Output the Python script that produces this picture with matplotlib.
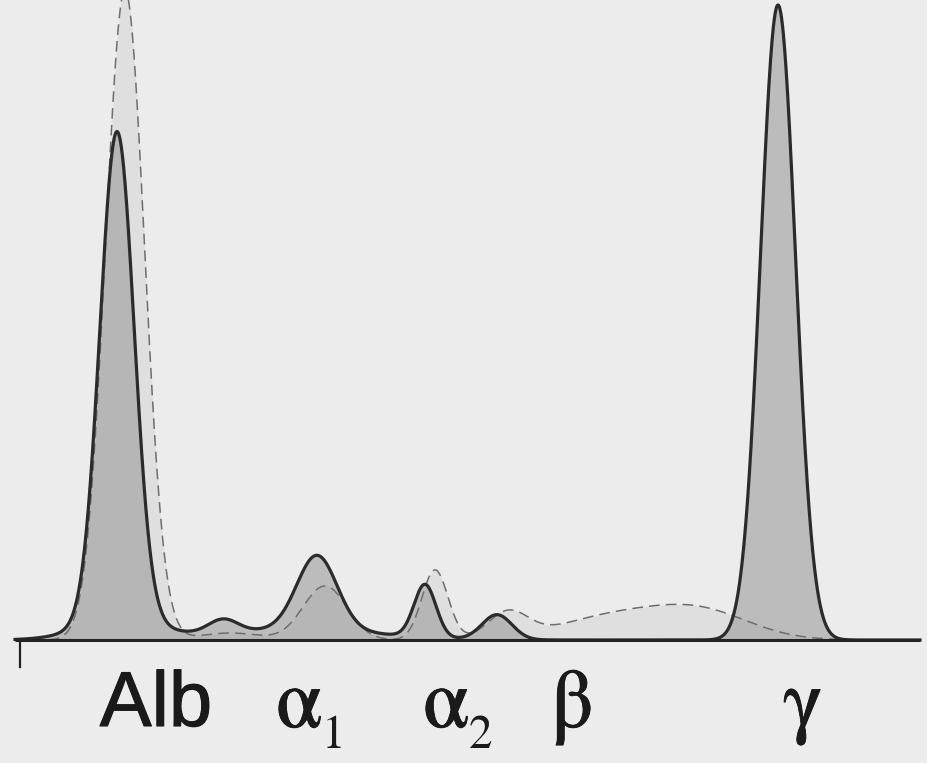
import matplotlib.pyplot as plt
import matplotlib.patheffects as pe
import numpy as np

# fractions of the patient trace (solid) : position, height, width
patient_pos = [117, 120, 223, 300, 317, 425, 497, 778]
patient_height = [490, 18, 14, 11, 74, 53, 25, 635]
patient_width = [17, 40, 15, 75, 20, 11, 15, 17.5]

# fractions of the reference trace (dashed)
normal_pos = [125, 230, 325, 435, 508, 610, 700]
normal_height = [650, 7, 54, 70, 26, 22, 28]
normal_width = [19.5, 30, 22, 13, 20, 55, 50]

labels = ['Alb', 'α', 'α', 'β', 'γ']
label_x = [156, 299, 446, 572, 803]
subscripts = ['1', '2']
subscript_x = [334, 481]


def trace(x, pos, height, width):
    y = np.zeros_like(x)
    for p, h, w in zip(pos, height, width):
        y += h * np.exp(-0.5 * ((x - p) / w) ** 2)
    return y


x = np.linspace(15, 920, 2000)
y_patient = trace(x, patient_pos, patient_height, patient_width)
y_normal = trace(x, normal_pos, normal_height, normal_width)

fig = plt.figure(figsize=(9.27, 7.63), dpi=100)
fig.patch.set_facecolor('#ececec')
ax = fig.add_axes([0, 0, 1, 1])
ax.set_facecolor('#ececec')
ax.set_xlim(0, 927)
ax.set_ylim(-123, 640)
ax.axis('off')

ax.fill_between(x, 0, y_normal, color='#c8c8c8', alpha=0.35, lw=0)
ax.fill_between(x, 0, y_patient, color='#9c9c9c', alpha=0.6, lw=0)
ax.plot(x, y_normal, color='#6e6e6e', lw=1.1, ls=(0, (7, 4)))
ax.plot(x, y_patient, color='#2b2b2b', lw=2.3)

# baseline and small tick
ax.plot([15, 920], [0, 0], color='#222222', lw=2.2, solid_capstyle='butt')
ax.plot([20, 20], [0, -27], color='#222222', lw=1.6)

ax.text(label_x[0], -86, labels[0], ha='center', va='baseline',
        fontsize=56, family='Liberation Sans', color='#1a1a1a',
        path_effects=[pe.withStroke(linewidth=0.8, foreground='#1a1a1a')])
for lab, lx in zip(labels[1:], label_x[1:]):
    ax.text(lx, -87, lab, ha='center', va='baseline',
            fontsize=60, family='STIXGeneral', color='#1a1a1a',
            path_effects=[pe.withStroke(linewidth=0.6, foreground='#1a1a1a')])
for s, sx in zip(subscripts, subscript_x):
    ax.text(sx, -108, s, ha='center', va='baseline',
            fontsize=34, family='STIXGeneral', color='#1a1a1a')

fig.savefig('out.png', dpi=100, facecolor=fig.get_facecolor())
